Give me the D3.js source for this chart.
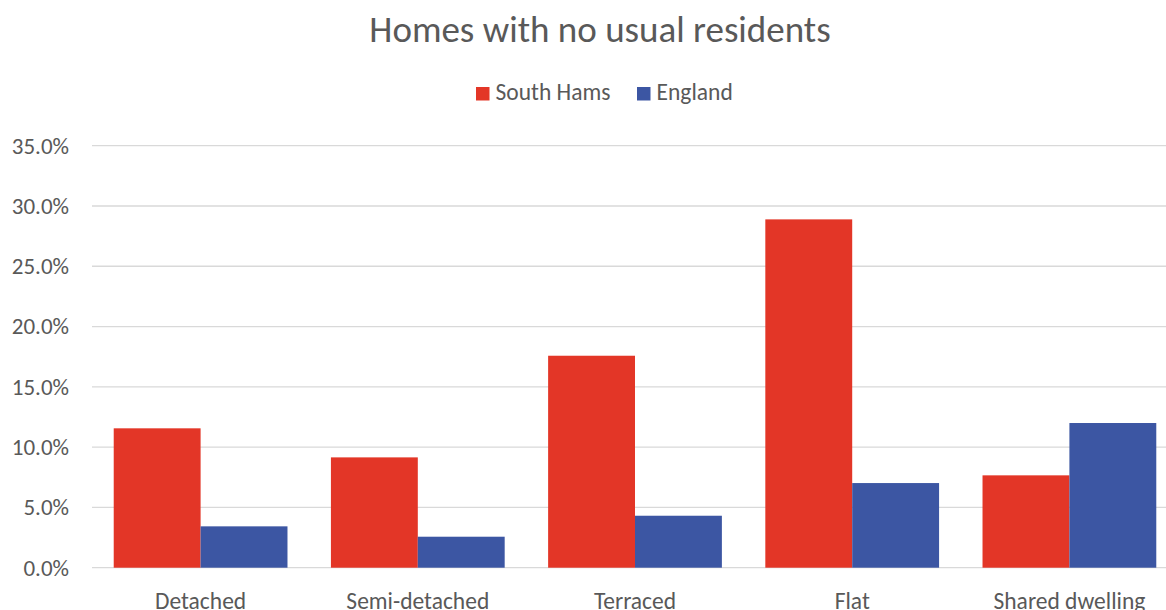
<!DOCTYPE html>
<html>
<head>
<meta charset="utf-8">
<script src="https://cdn.jsdelivr.net/npm/d3@7"></script>
<style>
  html, body { margin: 0; padding: 0; background: #fff; }
  svg { display: block; }
  text { font-family: Carlito, Calibri, Lato, sans-serif; fill: #595959; }
</style>
</head>
<body>
<svg id="chart" width="1166" height="610"></svg>
<script>
const title = "Homes with no usual residents";
const categories = ["Detached", "Semi-detached", "Terraced", "Flat", "Shared dwelling"];
const seriesNames = ["South Hams", "England"];
const southHams = [0.1156, 0.0915, 0.1758, 0.2889, 0.0766];
const england = [0.0343, 0.0257, 0.0431, 0.0702, 0.1200];
const yTicks = [0, 0.05, 0.10, 0.15, 0.20, 0.25, 0.30, 0.35];
const colors = ["#E33627", "#3C56A3"];

(function () {
const svg = d3.select("#chart");
const mLeft = 92, mRight = 1178, mTop = 145.7, mBottom = 567.7;
const font = "Carlito, Calibri, Lato, sans-serif";

const x0 = d3.scaleBand().domain(categories).range([mLeft, mRight]).paddingInner(0).paddingOuter(0);
const x1 = d3.scaleBand().domain(seriesNames).range([0, x0.bandwidth()]).paddingInner(0).paddingOuter(0.25);
const y = d3.scaleLinear().domain([0, 0.35]).range([mBottom, mTop]);

// gridlines
svg.append("g").selectAll("line").data(yTicks).join("line")
  .attr("x1", mLeft).attr("x2", mRight)
  .attr("y1", d => y(d)).attr("y2", d => y(d))
  .attr("stroke", "#D9D9D9").attr("stroke-width", 1.3);

// y axis labels
const yAxis = d3.axisLeft(y).tickValues(yTicks).tickFormat(d3.format(".1%")).tickSize(0).tickPadding(0);
const yg = svg.append("g").attr("transform", `translate(69,0)`).call(yAxis);
yg.select(".domain").remove();
yg.selectAll("text").attr("font-size", 23).attr("fill", "#595959").attr("font-family", font);

// bars
const rows = categories.map((c, i) => ({ cat: c, values: [southHams[i], england[i]] }));
const groups = svg.append("g").selectAll("g").data(rows).join("g")
  .attr("transform", d => `translate(${x0(d.cat)},0)`);
groups.selectAll("rect").data(d => d.values.map((v, j) => ({ s: seriesNames[j], v, j })))
  .join("rect")
  .attr("x", d => x1(d.s))
  .attr("width", x1.bandwidth())
  .attr("y", d => y(d.v))
  .attr("height", d => y(0) - y(d.v))
  .attr("fill", d => colors[d.j]);

// x axis labels
const xAxis = d3.axisBottom(x0).tickSize(0).tickPadding(0);
const xg = svg.append("g").attr("transform", `translate(0,${mBottom + 41})`).call(xAxis);
xg.select(".domain").remove();
xg.selectAll("text").attr("font-size", 23.5).attr("fill", "#595959").attr("dy", 0).attr("y", 0)
  .attr("font-family", font);

// title
svg.append("text").attr("x", 600).attr("y", 41.7).attr("text-anchor", "middle")
  .attr("font-size", 37).text(title);

// legend
const legendItems = [{ name: seriesNames[0], x: 476, c: colors[0] }, { name: seriesNames[1], x: 637, c: colors[1] }];
const lg = svg.append("g").selectAll("g").data(legendItems).join("g")
  .attr("transform", d => `translate(${d.x},87)`);
lg.append("rect").attr("width", 13.5).attr("height", 13.5).attr("fill", d => d.c);
lg.append("text").attr("x", 19.5).attr("y", 13.3).attr("font-size", 23.5).text(d => d.name);
})();
</script>
</body>
</html>
